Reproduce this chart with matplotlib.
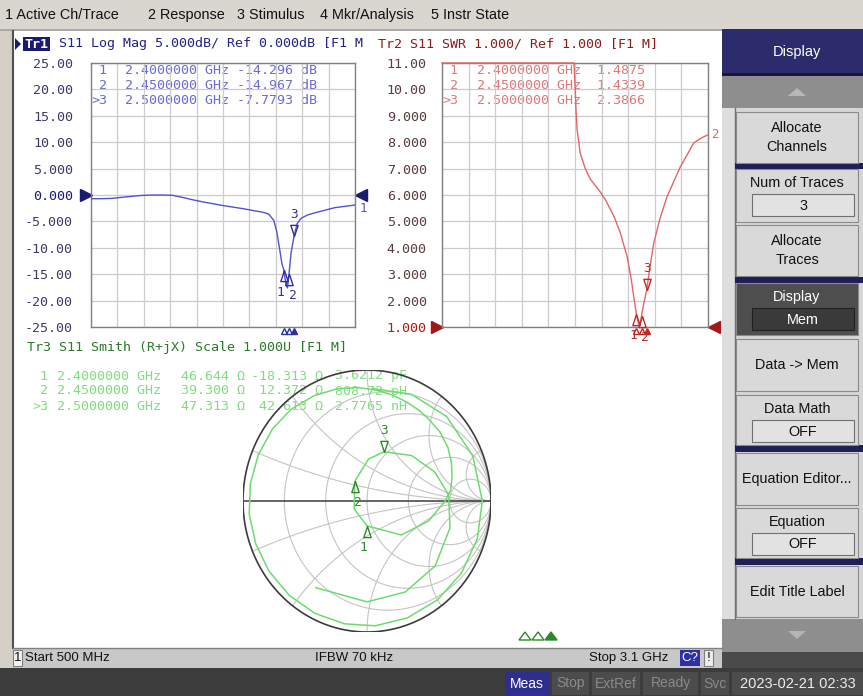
import numpy as np
import matplotlib
matplotlib.use("Agg")
import matplotlib.pyplot as plt
import matplotlib.transforms as mtransforms
from matplotlib.patches import Rectangle, Polygon
from matplotlib.path import Path
from matplotlib import font_manager as fm

# ---------------- data ----------------
menu_items = ["1 Active Ch/Trace", "2 Response", "3 Stimulus", "4 Mkr/Analysis", "5 Instr State"]

start_ghz = 0.5
stop_ghz = 3.1

# Tr1: S11 Log Mag (dB)
tr1_freq = [0.50, 0.60, 0.70, 0.80, 0.90, 1.00, 1.10, 1.20, 1.30, 1.40, 1.50, 1.60, 1.70, 1.80, 1.90,
            2.00, 2.10, 2.20, 2.25, 2.30, 2.33, 2.36, 2.38, 2.40, 2.42, 2.435, 2.45, 2.47, 2.50, 2.53,
            2.57, 2.63, 2.70, 2.80, 2.90, 3.00, 3.10]
tr1_db = [-0.70, -0.70, -0.65, -0.45, -0.25, -0.08, 0.0, 0.0, -0.05, -0.45, -0.90, -1.30, -1.65, -2.00, -2.30,
          -2.60, -2.95, -3.30, -3.60, -4.80, -7.00, -10.5, -13.0, -14.3, -17.0, -17.6, -14.97, -11.0, -7.78, -5.40,
          -4.40, -3.80, -3.40, -2.90, -2.40, -2.15, -1.90]
tr1_yticks = [25, 20, 15, 10, 5, 0, -5, -10, -15, -20, -25]
tr1_ylabels = ["25.00", "20.00", "15.00", "10.00", "5.000", "0.000", "-5.000", "-10.00", "-15.00", "-20.00", "-25.00"]

# Tr2: S11 SWR (values above 11 are pinned to the top edge by the analyzer)
tr2_freq = [0.50, 1.00, 1.50, 1.79, 1.80, 1.81, 1.82, 1.85, 1.90, 1.95, 2.00, 2.05, 2.10, 2.18, 2.24, 2.31,
            2.35, 2.38, 2.40, 2.42, 2.435, 2.45, 2.47, 2.50, 2.53, 2.57, 2.63, 2.70, 2.77, 2.83, 2.90, 2.96,
            3.03, 3.10]
tr2_swr = [11.0, 11.0, 11.0, 11.0, 10.2, 9.2, 8.5, 7.6, 7.0, 6.6, 6.35, 6.1, 5.8, 5.2, 4.6, 3.66,
           2.8, 2.0, 1.49, 1.12, 1.06, 1.43, 1.85, 2.39, 3.2, 4.18, 5.1, 5.94, 6.55, 7.07, 7.55, 7.97,
           8.15, 8.28]
tr2_yticks = [11, 10, 9, 8, 7, 6, 5, 4, 3, 2, 1]
tr2_ylabels = ["11.00", "10.00", "9.000", "8.000", "7.000", "6.000", "5.000", "4.000", "3.000", "2.000", "1.000"]

# Tr3: S11 Smith chart, reflection coefficient as magnitude / angle (deg)
tr3_freq = [0.50, 0.55, 0.60, 0.65, 0.70, 0.74, 0.78, 0.82, 0.86, 0.90, 0.94, 0.98, 1.02, 1.06, 1.10, 1.14,
            1.18, 1.22, 1.26, 1.30, 1.35, 1.40, 1.45, 1.50, 1.55, 1.60, 1.65, 1.70, 1.80, 1.90, 2.00, 2.10,
            2.20, 2.28, 2.33, 2.37, 2.40, 2.42, 2.45, 2.48, 2.50, 2.53, 2.57, 2.62, 2.70, 2.80, 2.90, 3.00, 3.10]
tr3_mag = [0.86, 0.89, 0.91, 0.92, 0.93, 0.935, 0.94, 0.945, 0.95, 0.955, 0.955, 0.955, 0.955, 0.955, 0.955, 0.955,
           0.95, 0.945, 0.94, 0.93, 0.91, 0.89, 0.87, 0.85, 0.835, 0.82, 0.81, 0.80, 0.79, 0.77, 0.74, 0.71,
           0.68, 0.63, 0.52, 0.38, 0.19, 0.12, 0.18, 0.32, 0.40, 0.50, 0.59, 0.66, 0.70, 0.74, 0.76, 0.77, 0.78]
tr3_ang = [87, 66, 45, 22, 0, -18, -36, -53, -70, -86, -101, -116, -131, -146, -160, -174,
           172, 158, 144, 131, 118, 106, 95, 85, 76, 67, 59, 52, 42, 32, 23, 15,
           7, 0, -17, -43, -90, -150, 123, 88, 70, 44, 22, 4, -17, -42, -66, -90, -122]

# markers
mk_ids = ["1", "2", "3"]
mk_freq_txt = ["2.4000000 GHz", "2.4500000 GHz", "2.5000000 GHz"]
mk_freq = [2.40, 2.45, 2.50]
mk_db = [-14.296, -14.967, -7.7793]
mk_db_txt = ["-14.296 dB", "-14.967 dB", "-7.7793 dB"]
mk_swr = [1.4875, 1.4339, 2.3866]
mk_swr_txt = ["1.4875", "1.4339", "2.3866"]
mk_r = [46.644, 39.300, 47.313]
mk_x = [-18.313, 12.372, 42.613]
mk_r_txt = ["46.644 \u03a9", "39.300 \u03a9", "47.313 \u03a9"]
mk_x_txt = ["-18.313 \u03a9", "12.372 \u03a9", "42.613 \u03a9"]
mk_lc_txt = ["3.6212 pF", "808.72 pH", "2.7765 nH"]
z0 = 50.0

softkey_labels = ["Allocate\nChannels", "Num of Traces", "Allocate\nTraces", "Display", "Data -> Mem",
                  "Data Math", "Equation Editor...", "Equation", "Edit Title Label"]
softkey_values = [None, "3", None, "Mem", None, "OFF", None, "OFF", None]
status_items = ["Meas", "Stop", "ExtRef", "Ready", "Svc"]
date_text = "2023-02-21 02:33"

# ---------------- fonts ----------------
avail = {f.name for f in fm.fontManager.ttflist}
def pick(*names):
    for n in names:
        if n in avail:
            return n
    return "DejaVu Sans"
MONO = pick("DejaVu Sans Mono", "Liberation Mono")
UI = pick("Liberation Sans", "DejaVu Sans")
NARROW = pick("Liberation Sans Narrow", "Liberation Sans")

# ---------------- colours ----------------
C_GRAY = "#d4d0c8"
T1_TITLE, T1_LINE, T1_TAB, T1_TICK = "#22228a", "#5252d2", "#6a6ad6", "#3c3c66"
T2_TITLE, T2_LINE, T2_TAB, T2_TICK = "#8a1c1c", "#e36666", "#e07878", "#5a3c3c"
T3_TITLE, T3_LINE, T3_TAB, T3_MK = "#2b7a2b", "#6ddc6d", "#80dc80", "#2a8a2a"
GRID = "#cccccc"
FRAME = "#808080"

W, H = 863, 696
fig = plt.figure(figsize=(W / 100, H / 100), dpi=100)
fig.patch.set_facecolor(C_GRAY)
bg = fig.add_axes([0, 0, 1, 1])
bg.set_xlim(0, W)
bg.set_ylim(H, 0)
bg.axis("off")


def rect(x0, y0, x1, y1, fc, ec="none", lw=0.0, z=1):
    bg.add_patch(Rectangle((x0, y0), x1 - x0, y1 - y0, facecolor=fc, edgecolor=ec, linewidth=lw, zorder=z))


def txt(x, y, s, size, color, ha="left", va="center", family=None, weight="normal", z=5, **kw):
    bg.text(x, y, s, fontsize=size, color=color, ha=ha, va=va, family=family or UI,
            fontweight=weight, zorder=z, **kw)


def tri(cx, cy, w, h, up, fc, ec="none", z=5, lw=1.0):
    if up:
        pts = [(cx - w / 2, cy + h / 2), (cx + w / 2, cy + h / 2), (cx, cy - h / 2)]
    else:
        pts = [(cx - w / 2, cy - h / 2), (cx + w / 2, cy - h / 2), (cx, cy + h / 2)]
    bg.add_patch(Polygon(pts, closed=True, facecolor=fc, edgecolor=ec, linewidth=lw, zorder=z))


def px_axes(x0, y0, x1, y1):
    a = fig.add_axes([x0 / W, 1 - y1 / H, (x1 - x0) / W, (y1 - y0) / H])
    a.set_facecolor("none")
    return a


# ---------------- top menu ----------------
rect(0, 0, W, 29, "#d9d6d0")
rect(0, 29, W, 31, "#a8a8a8")
for s, x in zip(menu_items, [5, 148, 237, 320, 431]):
    txt(x, 15, s, 10.4, "#111111")

# ---------------- main display area ----------------
rect(13, 31, 722, 648, "white")
bg.plot([13, 13], [31, 648], color="#505050", lw=1.5, zorder=2)

# ---------------- right softkey panel ----------------
rect(722, 29, W, 652, "#d6d6d6")
rect(722, 29, W, 73, "#2c2c6c")
txt(797, 52, "Display", 10.5, "white", ha="center")
rect(722, 73, W, 76, "#16163c")
rect(722, 76, W, 108, "#8e8e8e")
tri(797, 92, 18, 8, True, "#b8b8b8")
rect(722, 108, 735, 619, "#dedede")
bg.plot([734.5, 734.5], [108, 619], color="#707070", lw=1, zorder=2)
softkey_box = [(112, 163), (169, 222), (225, 276), (283, 335), (339, 391), (395, 445), (453, 505),
               (508, 558), (566, 617)]
for (y0, y1) in [(163, 169), (277, 283), (445, 452), (558, 565)]:
    rect(735, y0, W, y1, "#1e1e5a", z=2)
for lab, val, (y0, y1) in zip(softkey_labels, softkey_values, softkey_box):
    dark = lab == "Display"
    face = "#4e4e4e" if dark else "#d9d9d9"
    tcol = "white" if dark else "#111111"
    rect(736, y0, 858, y1, face, ec="#8a8a8a", lw=0.8, z=3)
    if val is None:
        txt(797, (y0 + y1) / 2, lab, 10.4, tcol, ha="center", linespacing=1.4)
    else:
        txt(797, y0 + 14, lab, 10.4, tcol, ha="center")
        rect(752, y0 + 25, 854, y0 + 47, "#3a3a3a" if dark else "#e2e2e2",
             ec="#202020" if dark else "#707070", lw=0.8, z=4)
        txt(803, y0 + 36.5, val, 10.4, tcol, ha="center")
rect(722, 619, W, 652, "#8e8e8e")
tri(797, 635, 18, 8, False, "#b4b4b4")
rect(722, 652, W, 670, "#4a4a4a")

# ---------------- status bars ----------------
rect(13, 648, 722, 668, "#c8c8c8")
bg.plot([13, 722], [648, 648], color="#808080", lw=1, zorder=2)
rect(13, 650, 22, 666, "#f2f2f2", ec="#808080", lw=0.8, z=3)
txt(17.5, 658, "1", 9.5, "#111111", ha="center", family=NARROW)
txt(25, 658, "Start 500 MHz", 9.5, "#111111", family=NARROW)
txt(315, 658, "IFBW 70 kHz", 9.5, "#111111", family=NARROW)
txt(589, 658, "Stop 3.1 GHz", 9.5, "#111111", family=NARROW)
rect(680, 650, 700, 666, "#3030a0", z=3)
txt(690, 658, "C?", 9.5, "white", ha="center", family=NARROW)
rect(704, 650, 713, 666, "#ececec", ec="#808080", lw=0.8, z=3)
txt(708.5, 658, "!", 9.5, "#111111", ha="center", family=NARROW)

rect(0, 668, W, H, "#3c3c3c")
sb_box = [(505, 549), (552, 589), (592, 640), (643, 698), (701, 729)]
for s, (x0, x1) in zip(status_items, sb_box):
    meas = s == "Meas"
    rect(x0, 672, x1, 695, "#2e2e8e" if meas else "#4c4c4c", z=2)
    txt((x0 + x1) / 2, 683.5, s, 10, "white" if meas else "#8a8a8a", ha="center", family=NARROW)
rect(732, 672, W, 695, "#4c4c4c", z=2)
txt(740, 683.5, date_text, 10.5, "#ececec", family=NARROW)

# ---------------- marker glyph paths (tip at the data point) ----------------
codes = [Path.MOVETO, Path.LINETO, Path.LINETO, Path.CLOSEPOLY]
TRI_UP = Path([(0, 0), (-0.33, -1), (0.33, -1), (0, 0)], codes)    # apex at point, body below
TRI_DN = Path([(0, 0), (-0.33, 1), (0.33, 1), (0, 0)], codes)      # apex at point, body above
label_dx = [-2.5, 2.5, 0]


def draw_markers(ax, xs, ys, color):
    for i, (x, y) in enumerate(zip(xs, ys)):
        active = i == 2
        ax.plot([x], [y], marker=TRI_DN if active else TRI_UP, ms=16, mfc="none", mec=color,
                mew=1.0, ls="none", clip_on=False, zorder=6)
        ax.annotate(mk_ids[i], (x, y), xytext=(label_dx[i], 15.5 if active else -15.5),
                    textcoords="offset points", ha="center", va="center", fontsize=9.3, color=color,
                    family=MONO, annotation_clip=False, zorder=6)


def setup_rect_axes(ax, yticks, ylabels, ylim, tickcol):
    ax.set_xlim(start_ghz, stop_ghz)
    ax.set_ylim(*ylim)
    ax.set_xticks(np.linspace(start_ghz, stop_ghz, 11))
    ax.set_xticklabels([])
    ax.set_yticks(yticks)
    ax.set_yticklabels(ylabels, family=MONO, fontsize=9.6, color=tickcol)
    ax.tick_params(length=0, pad=11)
    ax.grid(True, color=GRID, lw=0.9)
    for sp in ax.spines.values():
        sp.set_color(FRAME)
        sp.set_linewidth(1.0)


# ---------------- Tr1 ----------------
ax1 = px_axes(91, 63, 355, 327)
setup_rect_axes(ax1, tr1_yticks, tr1_ylabels, (-25, 25), T1_TICK)
ax1.tick_params(pad=13)
for lab in ax1.get_yticklabels():
    if lab.get_text() == "0.000":
        lab.set_color("#1a1a70")
ax1.plot(tr1_freq, tr1_db, color=T1_LINE, lw=1.0, zorder=4)
draw_markers(ax1, mk_freq, mk_db, "#30309a")
tA = mtransforms.blended_transform_factory(ax1.transAxes, ax1.transData)
ax1.plot([-0.02], [0], marker=">", ms=8, color="#1a1a70", transform=tA, clip_on=False)
ax1.plot([1.022], [0], marker="<", ms=8, color="#1a1a70", transform=tA, clip_on=False)
ax1.annotate("1", (tr1_freq[-1], tr1_db[-1]), xytext=(3, -5), textcoords="offset points",
             fontsize=9, color=T1_LINE, family=MONO, annotation_clip=False)
tB = mtransforms.blended_transform_factory(ax1.transData, ax1.transAxes)
ax1.plot(mk_freq[:2], [-0.015, -0.015], marker="^", ms=5, mfc="none", mec="#30309a", ls="none",
         transform=tB, clip_on=False)
ax1.plot(mk_freq[2:], [-0.015], marker="^", ms=5, color="#30309a", ls="none", transform=tB, clip_on=False)
for i in range(3):
    pre = ">" if i == 2 else " "
    txt(107, 71 + 14.7 * i, pre + mk_ids[i], 9.6, T1_TAB, ha="right", family=MONO, z=3)
    txt(125, 71 + 14.7 * i, mk_freq_txt[i] + " " + mk_db_txt[i], 9.6, T1_TAB, family=MONO, z=3)

# ---------------- Tr2 ----------------
ax2 = px_axes(442, 63, 708, 327)
setup_rect_axes(ax2, tr2_yticks, tr2_ylabels, (1, 11), T2_TICK)
for lab in ax2.get_yticklabels():
    if lab.get_text() == "1.000":
        lab.set_color("#b01818")
ax2.plot(tr2_freq, tr2_swr, color=T2_LINE, lw=1.0, zorder=5, clip_on=False)
draw_markers(ax2, mk_freq, mk_swr, "#c02828")
tA2 = mtransforms.blended_transform_factory(ax2.transAxes, ax2.transData)
ax2.plot([-0.02], [1], marker=">", ms=8, color="#a01818", transform=tA2, clip_on=False)
ax2.plot([1.022], [1], marker="<", ms=8, color="#a01818", transform=tA2, clip_on=False)
ax2.annotate("2", (tr2_freq[-1], tr2_swr[-1]), xytext=(2, 0), textcoords="offset points",
             fontsize=9, color=T2_LINE, family=MONO, va="center", annotation_clip=False)
tB2 = mtransforms.blended_transform_factory(ax2.transData, ax2.transAxes)
ax2.plot(mk_freq[:2], [-0.015, -0.015], marker="^", ms=5, mfc="none", mec="#c02828", ls="none",
         transform=tB2, clip_on=False)
ax2.plot(mk_freq[2:], [-0.015], marker="^", ms=5, color="#c02828", ls="none", transform=tB2, clip_on=False)
for i in range(3):
    pre = ">" if i == 2 else " "
    txt(458, 71 + 14.7 * i, pre + mk_ids[i], 9.6, T2_TAB, ha="right", family=MONO, z=3)
    txt(477, 71 + 14.7 * i, mk_freq_txt[i] + "  " + mk_swr_txt[i], 9.6, T2_TAB, family=MONO, z=3)

# ---------------- titles ----------------
bg.add_patch(Polygon([(15, 38), (15, 50), (21, 44)], closed=True, facecolor="#1a1a70", zorder=5))
rect(23, 37, 50, 51, "#1a1a70", z=4)
txt(36.5, 44, "Tr1", 9.6, "white", ha="center", family=MONO, weight="bold")
txt(59, 44, "S11 Log Mag 5.000dB/ Ref 0.000dB [F1 M", 9.6, T1_TITLE, family=MONO)
txt(378, 44, "Tr2 S11 SWR 1.000/ Ref 1.000 [F1 M]", 9.6, T2_TITLE, family=MONO)
txt(27, 348, "Tr3 S11 Smith (R+jX) Scale 1.000U [F1 M]", 9.6, T3_TITLE, family=MONO)

# ---------------- Tr3 Smith chart ----------------
cx, cy, rx, ry = 367, 501, 124, 131
sm = px_axes(cx - rx, cy - ry, cx + rx, cy + ry)
sm.set_xlim(-1, 1)
sm.set_ylim(-1, 1)
sm.axis("off")
th = np.linspace(0, 2 * np.pi, 721)
for r in [0.2, 0.5, 1, 2, 5]:
    c, rad = r / (1 + r), 1 / (1 + r)
    sm.plot(c + rad * np.cos(th), rad * np.sin(th), color="#c4c4c4", lw=0.8, zorder=1)
for xv in [0.2, 0.5, 1, 2, 5]:
    for s in (1, -1):
        pts = 1 + 1j * s / xv + (1 / xv) * np.exp(1j * th)
        pts = np.where(np.abs(pts) <= 1.0005, pts, np.nan)
        sm.plot(pts.real, pts.imag, color="#c4c4c4", lw=0.8, zorder=1)
sm.plot(np.cos(th), np.sin(th), color="#3c3c3c", lw=1.2, zorder=2)
sm.plot([-1, 1], [0, 0], color="#3c3c3c", lw=1.1, zorder=2)
g = np.array(tr3_mag) * np.exp(1j * np.deg2rad(tr3_ang))
sm.plot(g.real, g.imag, color=T3_LINE, lw=1.1, zorder=3)
zm = (np.array(mk_r) + 1j * np.array(mk_x)) / z0
gm = (zm - 1) / (zm + 1)
draw_markers(sm, gm.real, gm.imag, T3_MK)

for i in range(3):
    pre = ">" if i == 2 else " "
    y = 376 + 15 * i
    txt(48, y, pre + mk_ids[i], 9.6, T3_TAB, ha="right", family=MONO, z=3)
    txt(57, y, mk_freq_txt[i], 9.6, T3_TAB, family=MONO, z=3)
    txt(245, y, mk_r_txt[i], 9.6, T3_TAB, ha="right", family=MONO, z=3)
    txt(323, y, mk_x_txt[i], 9.6, T3_TAB, ha="right", family=MONO, z=3)
    txt(335, y, mk_lc_txt[i], 9.6, T3_TAB, family=MONO, z=3)

for k, x in enumerate([525, 538, 551]):
    tri(x, 636, 12, 8, True, T3_MK if k == 2 else "none", ec=T3_MK, lw=1.0, z=5)

fig.savefig("out.png", dpi=100, facecolor=fig.get_facecolor())
